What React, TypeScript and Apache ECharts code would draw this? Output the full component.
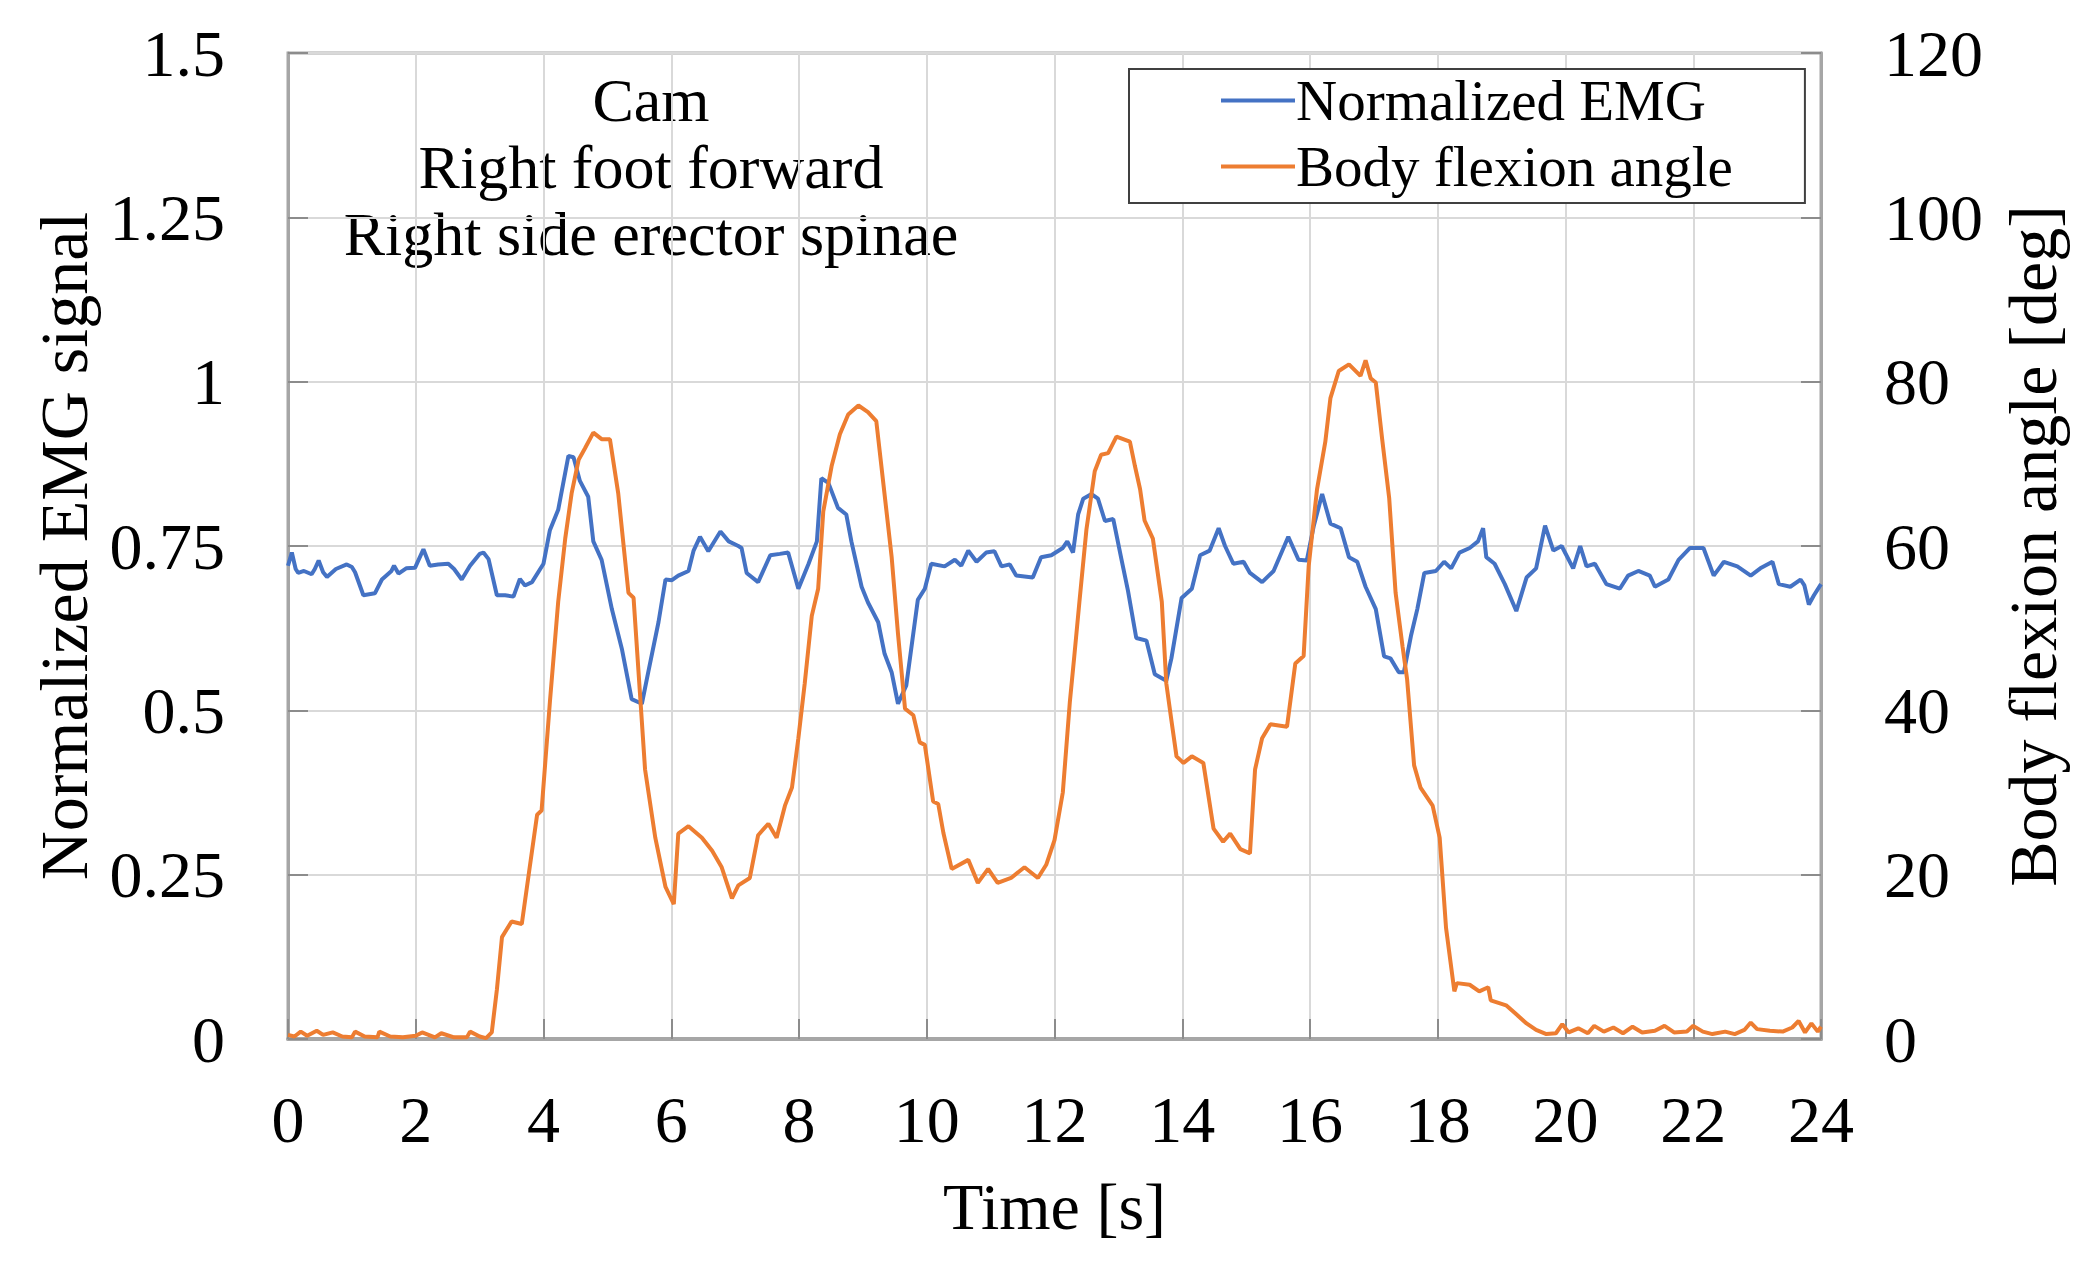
import React, { useEffect, useRef } from "react";
import * as echarts from "echarts";

const xTicks = { min: 0, max: 24, interval: 2 };
const emgAxis = { min: 0, max: 1.5, interval: 0.25 };
const angleAxis = { min: 0, max: 120, interval: 20 };

const annotationLines = ["Cam", "Right foot forward", "Right side erector spinae"];
const seriesNames = ["Normalized EMG", "Body flexion angle"];

const emgT = [
  0.0, 0.06, 0.12, 0.16, 0.25, 0.37, 0.42, 0.48, 0.55, 0.61, 0.75, 0.92, 1.0, 1.05, 1.18, 1.36, 1.47, 1.62, 1.66, 1.73,
  1.85, 1.99, 2.12, 2.22, 2.35, 2.51, 2.6, 2.72, 2.85, 3.0, 3.06, 3.14, 3.27, 3.4, 3.53, 3.63, 3.71, 3.82, 4.0, 4.1,
  4.23, 4.39, 4.47, 4.57, 4.7, 4.78, 4.91, 5.07, 5.23, 5.38, 5.54, 5.64, 5.8, 5.91, 6.01, 6.11, 6.27, 6.35, 6.45, 6.58,
  6.77, 6.9, 7.05, 7.1, 7.18, 7.36, 7.55, 7.7, 7.83, 7.99, 8.15, 8.28, 8.35, 8.46, 8.61, 8.74, 8.82, 8.98, 9.08, 9.24,
  9.34, 9.45, 9.55, 9.68, 9.86, 9.97, 10.07, 10.28, 10.44, 10.54, 10.65, 10.78, 10.93, 11.06, 11.17, 11.3, 11.4, 11.66, 11.79, 11.95,
  12.13, 12.2, 12.29, 12.37, 12.45, 12.58, 12.68, 12.79, 12.92, 13.05, 13.15, 13.28, 13.44, 13.57, 13.75, 13.83, 13.99, 14.15, 14.28, 14.43,
  14.57, 14.67, 14.8, 14.96, 15.06, 15.25, 15.43, 15.66, 15.82, 15.95, 16.06, 16.19, 16.32, 16.48, 16.61, 16.74, 16.87, 17.03, 17.16, 17.26,
  17.39, 17.47, 17.58, 17.68, 17.79, 17.97, 18.1, 18.21, 18.34, 18.5, 18.63, 18.71, 18.76, 18.89, 19.05, 19.23, 19.39, 19.54, 19.68, 19.81,
  19.94, 20.12, 20.23, 20.33, 20.46, 20.64, 20.85, 20.98, 21.14, 21.32, 21.4, 21.61, 21.77, 21.95, 22.16, 22.32, 22.48, 22.69, 22.9, 23.05,
  23.24, 23.34, 23.52, 23.68, 23.74, 23.81, 23.89, 24.0,
];
const emgV = [
  0.72, 0.74, 0.715, 0.709, 0.712, 0.707, 0.715, 0.728, 0.71, 0.703, 0.715, 0.722, 0.718, 0.71, 0.675, 0.678, 0.699, 0.712, 0.72, 0.708,
  0.716, 0.717, 0.745, 0.72, 0.722, 0.723, 0.715, 0.699, 0.72, 0.738, 0.74, 0.73, 0.675, 0.675, 0.673, 0.7, 0.69, 0.695, 0.723, 0.774,
  0.805, 0.887, 0.885, 0.849, 0.825, 0.757, 0.729, 0.654, 0.592, 0.517, 0.51, 0.558, 0.634, 0.699, 0.698, 0.705, 0.712, 0.743, 0.764, 0.742,
  0.772, 0.757, 0.75, 0.747, 0.709, 0.695, 0.736, 0.738, 0.74, 0.685, 0.723, 0.757, 0.853, 0.846, 0.808, 0.798, 0.757, 0.688, 0.664, 0.634,
  0.586, 0.558, 0.51, 0.538, 0.668, 0.685, 0.723, 0.719, 0.729, 0.72, 0.743, 0.726, 0.74, 0.742, 0.719, 0.722, 0.705, 0.702, 0.733, 0.736,
  0.747, 0.757, 0.74, 0.798, 0.822, 0.829, 0.822, 0.788, 0.791, 0.729, 0.682, 0.61, 0.606, 0.555, 0.545, 0.579, 0.671, 0.685, 0.736, 0.743,
  0.777, 0.75, 0.723, 0.726, 0.709, 0.695, 0.712, 0.764, 0.729, 0.728, 0.781, 0.829, 0.784, 0.777, 0.733, 0.726, 0.688, 0.654, 0.582, 0.579,
  0.558, 0.558, 0.613, 0.654, 0.709, 0.712, 0.726, 0.716, 0.74, 0.747, 0.757, 0.777, 0.733, 0.723, 0.692, 0.651, 0.702, 0.716, 0.781, 0.743,
  0.75, 0.716, 0.75, 0.719, 0.723, 0.692, 0.685, 0.705, 0.712, 0.705, 0.688, 0.699, 0.729, 0.747, 0.747, 0.705, 0.726, 0.719, 0.705, 0.716,
  0.726, 0.692, 0.688, 0.699, 0.69, 0.661, 0.675, 0.692,
];

const angleT = [
  0.0, 0.1, 0.2, 0.3, 0.45, 0.55, 0.7, 0.85, 1.0, 1.05, 1.2, 1.4, 1.43, 1.6, 1.8, 2.0, 2.1, 2.3, 2.4, 2.6,
  2.8, 2.85, 3.0, 3.1, 3.19, 3.27, 3.35, 3.5, 3.66, 3.77, 3.9, 3.97, 4.1, 4.23, 4.34, 4.44, 4.55, 4.65, 4.78, 4.91,
  5.04, 5.17, 5.33, 5.41, 5.51, 5.59, 5.75, 5.91, 6.04, 6.11, 6.27, 6.48, 6.64, 6.79, 6.95, 7.05, 7.23, 7.36, 7.52, 7.65,
  7.78, 7.89, 7.99, 8.09, 8.2, 8.3, 8.38, 8.51, 8.64, 8.77, 8.93, 9.08, 9.21, 9.29, 9.45, 9.55, 9.66, 9.79, 9.89, 9.97,
  10.1, 10.18, 10.26, 10.39, 10.65, 10.8, 10.96, 11.11, 11.32, 11.53, 11.74, 11.87, 12.0, 12.13, 12.24, 12.31, 12.39, 12.5, 12.63, 12.73,
  12.84, 12.97, 13.18, 13.26, 13.34, 13.41, 13.54, 13.68, 13.75, 13.83, 13.91, 14.02, 14.15, 14.33, 14.49, 14.64, 14.75, 14.91, 15.06, 15.14,
  15.25, 15.38, 15.64, 15.77, 15.9, 15.98, 16.11, 16.24, 16.32, 16.45, 16.61, 16.79, 16.87, 16.95, 17.03, 17.13, 17.24, 17.34, 17.45, 17.52,
  17.63, 17.73, 17.92, 18.03, 18.13, 18.26, 18.3, 18.5, 18.65, 18.79, 18.83, 19.07, 19.23, 19.39, 19.54, 19.7, 19.85, 19.95, 20.05, 20.2,
  20.35, 20.45, 20.6, 20.75, 20.9, 21.05, 21.2, 21.4, 21.55, 21.7, 21.9, 22.0, 22.15, 22.3, 22.5, 22.65, 22.8, 22.9, 23.0, 23.2,
  23.4, 23.55, 23.65, 23.75, 23.85, 23.95, 24.0,
];
const angleV = [
  0.5, 0.3, 0.9, 0.4, 1.0, 0.5, 0.8, 0.3, 0.2, 0.9, 0.3, 0.2, 0.9, 0.3, 0.2, 0.4, 0.8, 0.2, 0.7, 0.2,
  0.2, 0.9, 0.3, 0.1, 0.8, 6, 12.4, 14.3, 14, 20.1, 27.3, 27.8, 41, 53.2, 60.9, 66.4, 70.5, 71.9, 73.8, 73,
  73, 66.4, 54.3, 53.7, 42.1, 32.8, 24.5, 18.5, 16.4, 25, 25.9, 24.5, 22.9, 20.9, 17.1, 18.7, 19.6, 24.8, 26.2, 24.5,
  28.4, 30.6, 36.6, 43.3, 51.5, 54.8, 64.2, 69.7, 73.6, 76, 77.1, 76.3, 75.2, 69.7, 58.7, 49.3, 40.2, 39.4, 36.1, 35.8,
  28.9, 28.6, 25.1, 20.7, 21.8, 19, 20.7, 19, 19.6, 20.9, 19.6, 21.2, 24.2, 30, 41, 46.6, 53.2, 62, 69.1, 71.1,
  71.3, 73.3, 72.7, 69.7, 66.9, 63.1, 60.9, 53.2, 43.3, 38.8, 34.4, 33.6, 34.4, 33.6, 25.6, 24, 25, 23.1, 22.6, 32.8,
  36.6, 38.3, 38, 45.7, 46.6, 57.6, 66.9, 72.7, 78, 81.3, 82.1, 80.7, 82.6, 80.4, 79.9, 73, 65.8, 54.3, 47.7, 43.8,
  33.3, 30.6, 28.4, 24.5, 13.5, 5.8, 6.8, 6.6, 5.8, 6.3, 4.7, 4.1, 3.0, 1.9, 1.1, 0.6, 0.7, 1.8, 0.8, 1.3,
  0.7, 1.6, 0.9, 1.4, 0.7, 1.5, 0.8, 1.0, 1.6, 0.8, 0.9, 1.6, 0.9, 0.6, 0.9, 0.6, 1.1, 2.0, 1.2, 1.0,
  0.9, 1.4, 2.2, 0.8, 1.9, 0.9, 1.5,
];

const FONT = '"Liberation Serif", "Times New Roman", serif';
const BLUE = "#4472C4";
const ORANGE = "#ED7D31";
const AXIS_GRAY = "#a6a6a6";
const GRID_GRAY = "#d9d9d9";

export default function App() {
  const ref = useRef<HTMLDivElement>(null);

  useEffect(() => {
    if (!ref.current) return;
    const chart = echarts.init(ref.current, null, { renderer: "svg" });

    const emgData = emgT.map((t, i) => [t, emgV[i]]);
    const angleData = angleT.map((t, i) => [t, angleV[i]]);

    const axisLabel = { fontFamily: FONT, fontSize: 66, color: "#000" };
    const tick = { show: true, inside: true, length: 20, lineStyle: { color: "#8c8c8c", width: 2 } };

    chart.setOption({
      animation: false,
      backgroundColor: "#ffffff",
      grid: {
        left: 288,
        top: 53,
        width: 1533,
        height: 986,
        show: true,
        borderColor: AXIS_GRAY,
        borderWidth: 3,
        backgroundColor: "transparent",
      },
      legend: {
        orient: "vertical",
        left: 1129,
        top: 69,
        data: seriesNames.map((n) => ({ name: n, icon: "rect" })),
        itemWidth: 74,
        itemHeight: 4,
        itemGap: 9,
        padding: [3, 72, 8, 92],
        backgroundColor: "#ffffff",
        borderColor: "#404040",
        borderWidth: 2,
        borderRadius: 0,
        textStyle: { fontFamily: FONT, fontSize: 57, color: "#000", padding: [0, 0, 0, -4], lineHeight: 57 },
      },
      xAxis: {
        type: "value",
        min: xTicks.min,
        max: xTicks.max,
        interval: xTicks.interval,
        name: "Time [s]",
        nameLocation: "middle",
        nameGap: 134,
        nameTextStyle: { fontFamily: FONT, fontSize: 66, color: "#000" },
        axisLine: { show: true, lineStyle: { color: AXIS_GRAY, width: 4 } },
        axisTick: tick,
        axisLabel: { ...axisLabel, margin: 47 },
        splitLine: { show: true, lineStyle: { color: GRID_GRAY, width: 2 } },
      },
      yAxis: [
        {
          type: "value",
          min: emgAxis.min,
          max: emgAxis.max,
          interval: emgAxis.interval,
          position: "left",
          name: "Normalized EMG signal",
          nameLocation: "middle",
          nameGap: 190,
          nameTextStyle: { fontFamily: FONT, fontSize: 68, color: "#000" },
          axisLine: { show: true, lineStyle: { color: AXIS_GRAY, width: 3 } },
          axisTick: tick,
          axisLabel: { ...axisLabel, margin: 63 },
          splitLine: { show: true, lineStyle: { color: GRID_GRAY, width: 2 } },
        },
        {
          type: "value",
          min: angleAxis.min,
          max: angleAxis.max,
          interval: angleAxis.interval,
          position: "right",
          name: "Body flexion angle [deg]",
          nameLocation: "middle",
          nameGap: 178,
          nameTextStyle: { fontFamily: FONT, fontSize: 68, color: "#000" },
          axisLine: { show: true, lineStyle: { color: AXIS_GRAY, width: 3 } },
          axisTick: tick,
          axisLabel: { ...axisLabel, margin: 63 },
          splitLine: { show: false },
        },
      ],
      graphic: annotationLines.map((txt, i) => ({
        type: "text",
        x: 651,
        y: 100 + i * 67,
        silent: true,
        style: {
          text: txt,
          fontFamily: FONT,
          fontSize: 62,
          fill: "#000",
          align: "center",
          verticalAlign: "middle",
        },
      })),
      series: [
        {
          name: seriesNames[0],
          type: "line",
          yAxisIndex: 0,
          data: emgData,
          showSymbol: false,
          symbol: "none",
          lineStyle: { color: BLUE, width: 4 },
          itemStyle: { color: BLUE },
        },
        {
          name: seriesNames[1],
          type: "line",
          yAxisIndex: 1,
          data: angleData,
          showSymbol: false,
          symbol: "none",
          lineStyle: { color: ORANGE, width: 4 },
          itemStyle: { color: ORANGE },
        },
      ],
    });

    return () => chart.dispose();
  }, []);

  return (
    <div
      ref={ref}
      style={{ position: "fixed", left: 0, top: 0, width: 2094, height: 1268, background: "#fff" }}
    />
  );
}
